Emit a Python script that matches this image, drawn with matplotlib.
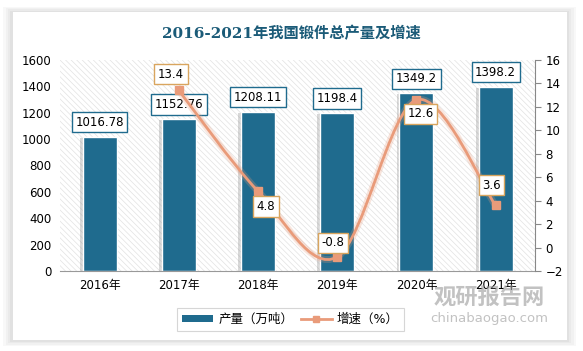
import matplotlib
matplotlib.use("Agg")
import matplotlib.pyplot as plt
from matplotlib.patches import Rectangle
from matplotlib.path import Path
from matplotlib.patches import PathPatch
from matplotlib.lines import Line2D

plt.rcParams['font.family'] = ['DejaVu Sans', 'Noto Sans CJK SC']
plt.rcParams['hatch.linewidth'] = 0.5

years = ["2016年", "2017年", "2018年", "2019年", "2020年", "2021年"]
output = [1016.78, 1152.76, 1208.11, 1198.4, 1349.2, 1398.2]
growth = [None, 13.4, 4.8, -0.8, 12.6, 3.6]
output_labels = ["1016.78", "1152.76", "1208.11", "1198.4", "1349.2", "1398.2"]
growth_labels = ["", "13.4", "4.8", "-0.8", "12.6", "3.6"]

bar_color = "#1F6B8E"
line_color = "#E99B7A"
title_color = "#1B5B78"

fig = plt.figure(figsize=(5.83, 3.51), dpi=100)
fig.patch.set_facecolor("white")

# card with soft shadow
for i, a in enumerate([0.05, 0.05, 0.06, 0.08]):
    pad = (4 - i) * 0.004
    fig.patches.append(Rectangle((0.022 - pad, 0.03 - pad), 0.95 + 2 * pad, 0.935 + 2 * pad,
                                 transform=fig.transFigure, facecolor="gray", alpha=a,
                                 edgecolor="none", zorder=-10))
fig.patches.append(Rectangle((0.022, 0.03), 0.95, 0.935, transform=fig.transFigure,
                             facecolor="white", edgecolor="none", zorder=-9))

fig.text(0.5, 0.905, "2016-2021年我国锻件总产量及增速", ha="center", va="center",
         fontsize=11, fontweight="bold", color=title_color,
         family=["DejaVu Serif", "Noto Sans CJK SC"])

ax = fig.add_axes([0.103, 0.228, 0.815, 0.601])
ax.set_facecolor("none")
x = list(range(len(years)))

ax.add_patch(Rectangle((0, 0), 1, 1, transform=ax.transAxes, facecolor="none",
                       edgecolor="#E2E2E2", hatch="\\\\\\\\\\\\", linewidth=0, zorder=0))

# bar shadows
ax.bar([i - 0.03 for i in x], [v - 10 for v in output], width=0.44, color="gray",
       alpha=0.3, zorder=1)
ax.bar(x, output, width=0.43, color=bar_color, edgecolor="white", linewidth=1, zorder=2)
ax.set_xlim(-0.5, 5.5)
ax.set_ylim(0, 1600)
ax.set_yticks(range(0, 1601, 200))
ax.set_xticks(x)
ax.set_xticklabels(years)
ax.tick_params(axis="both", length=0, labelsize=8.5, pad=6)
for s in ["top", "right", "left"]:
    ax.spines[s].set_visible(False)
ax.spines["bottom"].set_color("#999999")

for i, v in enumerate(output):
    ax.text(i, v + 110, output_labels[i], ha="center", va="center", fontsize=8.5, zorder=6,
            bbox=dict(boxstyle="square,pad=0.3", facecolor="white", edgecolor=bar_color, lw=1))

ax2 = ax.twinx()
ax2.set_ylim(-2, 16)
ax2.set_yticks(range(-2, 17, 2))
ax2.tick_params(axis="y", length=4, labelsize=8.5, color="#888888")
for s in ["top", "left", "bottom"]:
    ax2.spines[s].set_visible(False)
ax2.spines["right"].set_color("#888888")

# smooth curve (Bezier through the data points)
pts = [(i, g) for i, g in enumerate(growth) if g is not None]
verts = [pts[0]]
codes = [Path.MOVETO]
n = len(pts)
for k in range(n - 1):
    p0 = pts[k - 1] if k > 0 else pts[k]
    p1 = pts[k]
    p2 = pts[k + 1]
    p3 = pts[k + 2] if k + 2 < n else pts[k + 1]
    c1 = (p1[0] + (p2[0] - p0[0]) / 6, p1[1] + (p2[1] - p0[1]) / 6)
    c2 = (p2[0] - (p3[0] - p1[0]) / 6, p2[1] - (p3[1] - p1[1]) / 6)
    verts += [c1, c2, p2]
    codes += [Path.CURVE4] * 3
ax2.add_patch(PathPatch(Path(verts, codes), facecolor="none", edgecolor=line_color,
                        lw=5, alpha=0.25, zorder=3))
ax2.add_patch(PathPatch(Path(verts, codes), facecolor="none", edgecolor=line_color,
                        lw=2, zorder=4))
ax2.plot([p[0] for p in pts], [p[1] for p in pts], ls="none", marker="s", ms=5.5,
         color=line_color, zorder=5)

offsets = {1: (-0.1, 1.4), 2: (0.1, -1.3), 3: (-0.05, 1.2), 4: (0.05, -1.2), 5: (-0.05, 1.7)}
for i, g in enumerate(growth):
    if g is None:
        continue
    dx, dy = offsets[i]
    ax2.text(i + dx, g + dy, growth_labels[i], ha="center", va="center", fontsize=8.5, zorder=7,
             bbox=dict(boxstyle="square,pad=0.3", facecolor="white", edgecolor="#D9A55E", lw=1))

handles = [Rectangle((0, 0), 1, 1, facecolor=bar_color),
           Line2D([0], [0], color=line_color, lw=2, marker="s", ms=5)]
leg = fig.legend(handles, ["产量（万吨）", "增速（%）"], loc="center", ncol=2,
                 bbox_to_anchor=(0.498, 0.09), fontsize=9, frameon=True, fancybox=False,
                 handlelength=2.5, handleheight=0.6, columnspacing=0.6, handletextpad=0.4,
                 borderpad=0.4)
leg.get_frame().set_edgecolor("#CCCCCC")
leg.get_frame().set_linewidth(0.8)

# watermark
fig.text(0.84, 0.152, "观研报告网", ha="center", va="center", fontsize=16, fontweight="bold",
         color="#9A9A9A", alpha=0.6)
fig.text(0.84, 0.093, "chinabaogao.com", ha="center", va="center", fontsize=9.5,
         color="#9A9A9A", alpha=0.6)

fig.savefig("out.png", dpi=100)
